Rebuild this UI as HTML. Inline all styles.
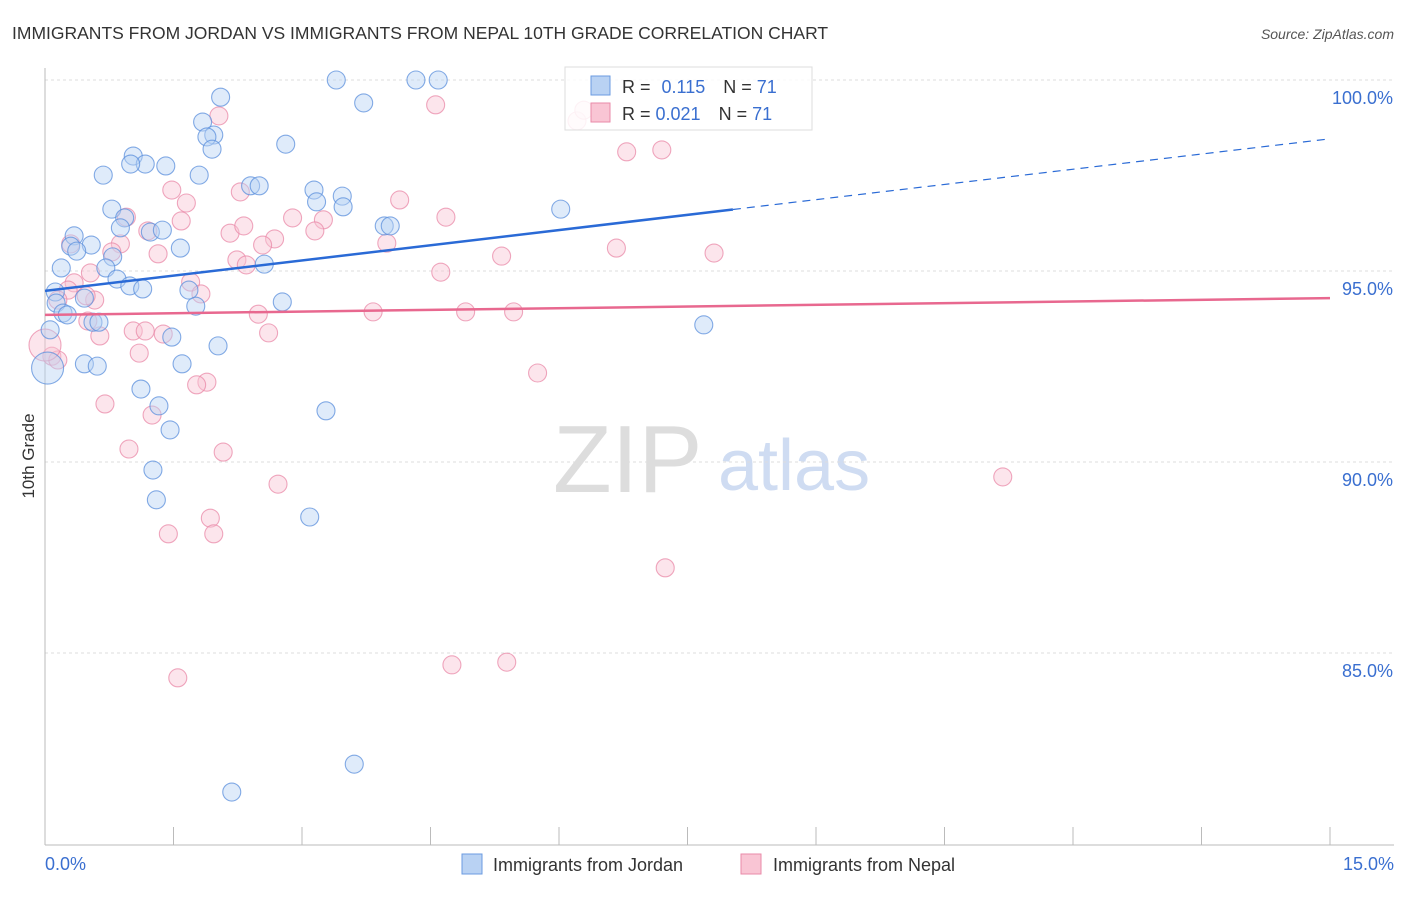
<!DOCTYPE html>
<html><head><meta charset="utf-8"><style>
body{margin:0;background:#fff;font-family:"Liberation Sans",sans-serif}
svg text{font-family:"Liberation Sans",sans-serif}
</style></head><body>
<svg id="c" width="1406" height="892" xmlns="http://www.w3.org/2000/svg">
<text x="12" y="39" font-size="17.5" fill="#333">IMMIGRANTS FROM JORDAN VS IMMIGRANTS FROM NEPAL 10TH GRADE CORRELATION CHART</text>
<text x="1394" y="39" font-size="14" fill="#555" font-style="italic" text-anchor="end">Source: ZipAtlas.com</text>
<g>
<text x="553" y="492" font-size="96" fill="#ddd" font-family="Liberation Serif">ZIP</text>
<text x="718" y="490" font-size="72" fill="#cfdcf2">atlas</text>
</g>
<g id="grid"></g>
<g id="axes"></g>
<g id="pts"></g>
<g id="trend"></g>
<text x="34" y="456" font-size="17" fill="#333" text-anchor="middle" transform="rotate(-90 34 456)">10th Grade</text>
<g>
<rect x="565" y="67" width="247" height="63" fill="#fff" fill-opacity="0.85" stroke="#ddd"/>
<rect x="591" y="76" width="19" height="19" fill="#b9d2f3" stroke="#6b9be0"/>
<rect x="591" y="103" width="19" height="19" fill="#f9c5d4" stroke="#e98aa8"/>
<text x="622" y="93" font-size="18" fill="#333">R = <tspan fill="#3a6fd0" dx="6">0.115</tspan><tspan dx="18">N = </tspan><tspan fill="#3a6fd0">71</tspan></text>
<text x="622" y="120" font-size="18" fill="#333">R = <tspan fill="#3a6fd0">0.021</tspan><tspan dx="18">N = </tspan><tspan fill="#3a6fd0">71</tspan></text>
</g>
<g>
<rect x="462" y="854" width="20" height="20" fill="#b9d2f3" stroke="#6b9be0"/>
<text x="493" y="871" font-size="18" fill="#333">Immigrants from Jordan</text>
<rect x="741" y="854" width="20" height="20" fill="#f9c5d4" stroke="#e98aa8"/>
<text x="773" y="871" font-size="18" fill="#333">Immigrants from Nepal</text>
</g>
</svg>
<script>
const yTicks=[100,95,90,85];
const yTickLabels=["100.0%","95.0%","90.0%","85.0%"];
const xTickLabels=["0.0%","15.0%"];
const jordanX=[3.40,4.33,4.59,2.05,3.72,1.84,1.97,1.89,1.95,2.81,1.03,1.17,1.00,1.41,0.68,1.80,2.40,2.50,3.14,3.47,3.17,3.48,6.02,0.78,0.93,0.88,1.23,1.37,3.96,4.03,0.34,0.30,0.54,0.37,1.58,0.79,2.56,0.19,0.71,0.84,0.99,1.14,1.68,0.12,0.46,0.13,1.76,2.77,0.21,0.26,0.56,0.63,1.48,2.02,7.69,0.06,0.46,0.61,1.60,1.12,1.33,3.28,1.46,1.26,1.30,3.09,3.61,2.18,0.03];
const jordanY=[100.0,100.0,100.0,99.55,99.40,98.90,98.56,98.51,98.19,98.32,98.01,97.80,97.80,97.75,97.51,97.51,97.23,97.23,97.12,96.96,96.81,96.68,96.62,96.62,96.39,96.13,96.02,96.07,96.18,96.18,95.92,95.65,95.68,95.52,95.60,95.37,95.18,95.08,95.08,94.79,94.61,94.53,94.50,94.45,94.29,94.16,94.08,94.19,93.90,93.85,93.66,93.66,93.27,93.04,93.59,93.46,92.57,92.51,92.57,91.91,91.47,91.34,90.84,89.79,89.01,88.56,82.09,81.36,92.46];
const nepalX=[4.56,2.03,6.21,6.29,6.79,7.20,1.48,2.28,1.65,4.14,0.95,4.68,2.89,3.25,1.59,1.20,2.16,2.32,3.15,3.99,2.68,2.54,0.88,0.30,6.67,7.81,5.33,0.78,1.32,2.24,2.35,4.62,0.53,1.70,0.34,0.27,1.82,0.58,0.15,0.48,3.83,4.91,5.47,2.49,0.50,0.64,1.03,1.17,1.38,2.61,1.10,0.08,0.15,5.75,1.89,1.77,0.70,1.25,0.98,2.08,2.72,11.18,1.93,1.44,1.97,7.24,4.75,5.39,1.55,0.0];
const nepalY=[99.35,99.06,98.93,99.21,98.12,98.17,97.12,97.07,96.78,96.86,96.41,96.41,96.39,96.34,96.31,96.05,95.99,96.18,96.05,95.73,95.84,95.68,95.71,95.71,95.60,95.47,95.39,95.50,95.45,95.29,95.16,94.97,94.95,94.71,94.69,94.50,94.40,94.24,94.24,94.35,93.93,93.93,93.93,93.87,93.69,93.30,93.43,93.43,93.35,93.38,92.85,92.77,92.67,92.33,92.09,92.02,91.52,91.23,90.34,90.26,89.42,89.61,88.53,88.12,88.12,87.23,84.69,84.76,84.35,93.06];
const jordanTrend=[94.48,98.46];
const jordanSolidEnd=8.03;
const nepalTrend=[93.85,94.29];
const NS="http://www.w3.org/2000/svg";
const X=v=>45+v*(1285/15), Y=v=>80+(100-v)*38.2;
function mk(tag,attrs,parent){const e=document.createElementNS(NS,tag);for(const k in attrs)e.setAttribute(k,attrs[k]);parent.appendChild(e);return e;}
const grid=document.getElementById('grid'),axes=document.getElementById('axes'),pts=document.getElementById('pts'),trend=document.getElementById('trend');
yTicks.forEach((t,i)=>{
 const l=mk('line',{x1:45,x2:1394,y1:Y(t),y2:Y(t),stroke:'#ddd','stroke-dasharray':'3,3'},grid);
 
 
 const tx=mk('text',{x:1393,y:Y(t)+24,'font-size':18,fill:'#3a6fd0','text-anchor':'end'},axes);
 tx.textContent=yTickLabels[i];
 
 
});
let a=mk('line',{x1:45,x2:45,y1:68,y2:845,stroke:'#bbb'},axes);

a=mk('line',{x1:45,x2:1394,y1:845,y2:845,stroke:'#bbb'},axes);

for(let i=0;i<=10;i++){const tk=mk('line',{x1:X(i*1.5),x2:X(i*1.5),y1:827,y2:845,stroke:'#bbb'},axes);
 
 }
let xl=mk('text',{x:45,y:870,'font-size':18,fill:'#3a6fd0'},axes);xl.textContent=xTickLabels[0];

xl=mk('text',{x:1394,y:870,'font-size':18,fill:'#3a6fd0','text-anchor':'end'},axes);xl.textContent=xTickLabels[1];

function series(xs,ys,fill,stroke,name){xs.forEach((x,i)=>{
 const big=(x<0.05);
 const c=mk('circle',{cx:X(x),cy:Y(ys[i]),r:big?16:9,fill:fill,'fill-opacity':0.45,stroke:stroke,'stroke-width':1.1,'stroke-opacity':0.75},pts);
 
 
});}
series(nepalX,nepalY,'#f9c5d4','#e98aa8','point-nepal');
series(jordanX,jordanY,'#b9d2f3','#5b8fdc','point-jordan');
const jy=x=>jordanTrend[0]+(jordanTrend[1]-jordanTrend[0])*x/15;
let t=mk('line',{x1:X(0),y1:Y(jy(0)),x2:X(jordanSolidEnd),y2:Y(jy(jordanSolidEnd)),stroke:'#2a6ad6','stroke-width':2.5},trend);

t=mk('line',{x1:X(jordanSolidEnd),y1:Y(jy(jordanSolidEnd)),x2:X(15),y2:Y(jy(15)),stroke:'#2a6ad6','stroke-width':1.2,'stroke-dasharray':'8,6'},trend);

t=mk('line',{x1:X(0),y1:Y(nepalTrend[0]),x2:X(15),y2:Y(nepalTrend[1]),stroke:'#e8688f','stroke-width':2.5},trend);

</script>
</body></html>
